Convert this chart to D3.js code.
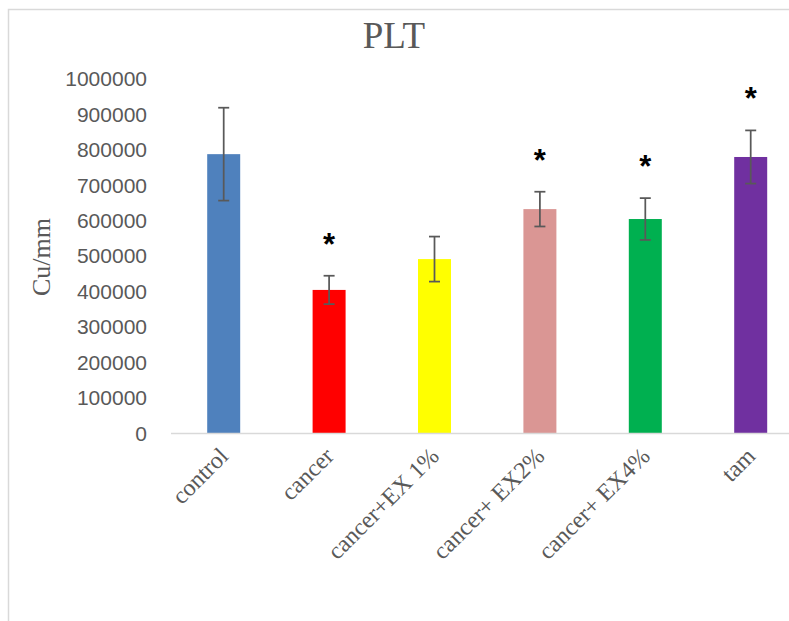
<!DOCTYPE html>
<html>
<head>
<meta charset="utf-8">
<script src="https://cdn.jsdelivr.net/npm/d3@7"></script>
<style>
	body { margin: 0; background: #fff; }
	svg { display: block; }
</style>
</head>
<body>
<svg id="chart" width="789" height="621"></svg>
<script>
const groups = ['control', 'cancer', 'cancer+EX 1%', 'cancer+ EX2%', 'cancer+ EX4%', 'tam'];
const means = [788000, 405000, 492000, 633000, 605000, 780000];
const errors = [131000, 40000, 63500, 49000, 59000, 75000];
const marks = ['', '*', '', '*', '*', '*'];
const colors = ['#4f81bd', '#ff0000', '#ffff00', '#da9694', '#00b050', '#7030a0'];
const yTicks = [0, 100000, 200000, 300000, 400000, 500000, 600000, 700000, 800000, 900000, 1000000];

const svg = d3.select('#chart');
const plot = { left: 171, right: 803.4, top: 79, bottom: 433.5 };

// Chart frame (runs off the right and bottom of the picture)
svg.append('rect')
	.attr('x', 8.5).attr('y', 9.5)
	.attr('width', 900).attr('height', 900)
	.attr('fill', 'none').attr('stroke', '#d9d9d9').attr('stroke-width', 1.5);

const xScale = d3.scaleBand()
	.domain(groups)
	.range([plot.left, plot.right])
	.paddingInner(0.687)
	.paddingOuter(0.687 / 2);

const yScale = d3.scaleLinear()
	.domain([0, 1000000])
	.range([plot.bottom, plot.top]);

// Y axis labels only, no line
const yAxis = svg.append('g')
	.attr('transform', `translate(${plot.left},0)`)
	.call(d3.axisLeft(yScale).tickValues(yTicks).tickSize(0).tickPadding(24).tickFormat(d3.format('d')));
yAxis.select('.domain').remove();
yAxis.selectAll('text')
	.attr('fill', '#595959')
	.style('font-family', '"Liberation Sans", Arial, sans-serif')
	.style('font-size', '21px');

// Bars
svg.append('g').selectAll('rect')
	.data(groups)
	.enter().append('rect')
	.attr('x', d => xScale(d))
	.attr('width', xScale.bandwidth())
	.attr('y', (d, i) => yScale(means[i]))
	.attr('height', (d, i) => yScale(0) - yScale(means[i]))
	.attr('fill', (d, i) => colors[i]);

// Category axis line
svg.append('line')
	.attr('x1', plot.left).attr('x2', 789)
	.attr('y1', plot.bottom).attr('y2', plot.bottom)
	.attr('stroke', '#d9d9d9').attr('stroke-width', 1.5);

// Error bars
const capHalf = 5.5;
const gErr = svg.append('g').attr('stroke', '#595959').attr('stroke-width', 1.75);
groups.forEach((g, i) => {
	const cx = xScale(g) + xScale.bandwidth() / 2;
	const hi = yScale(means[i] + errors[i]);
	const lo = yScale(means[i] - errors[i]);
	gErr.append('line').attr('x1', cx).attr('x2', cx).attr('y1', hi).attr('y2', lo);
	gErr.append('line').attr('x1', cx - capHalf).attr('x2', cx + capHalf).attr('y1', hi).attr('y2', hi);
	gErr.append('line').attr('x1', cx - capHalf).attr('x2', cx + capHalf).attr('y1', lo).attr('y2', lo);
});

// Significance marks
svg.append('g').selectAll('text')
	.data(groups)
	.enter().append('text')
	.attr('x', d => xScale(d) + xScale.bandwidth() / 2)
	.attr('y', (d, i) => yScale(means[i] + errors[i]) - 21)
	.attr('text-anchor', 'middle')
	.style('font-family', '"Liberation Sans", Arial, sans-serif')
	.style('font-weight', 'bold')
	.style('font-size', '31px')
	.attr('fill', '#000')
	.text((d, i) => marks[i]);

// Category labels, rotated
svg.append('g').selectAll('text')
	.data(groups)
	.enter().append('text')
	.attr('transform', d => `translate(${xScale(d) + xScale.bandwidth() / 2 + 6},${plot.bottom + 24}) rotate(-45)`)
	.attr('text-anchor', 'end')
	.style('font-family', '"Liberation Serif", "Times New Roman", serif')
	.style('font-size', '24px')
	.attr('fill', '#595959')
	.text(d => d);

// Title
svg.append('text')
	.attr('x', 394).attr('y', 48)
	.attr('text-anchor', 'middle')
	.style('font-family', '"Liberation Serif", "Times New Roman", serif')
	.style('font-size', '37px')
	.attr('fill', '#595959')
	.text('PLT');

// Y axis title
svg.append('text')
	.attr('transform', 'translate(50,257) rotate(-90)')
	.attr('text-anchor', 'middle')
	.style('font-family', '"Liberation Serif", "Times New Roman", serif')
	.style('font-size', '26px')
	.attr('fill', '#595959')
	.text('Cu/mm');
</script>
</body>
</html>
